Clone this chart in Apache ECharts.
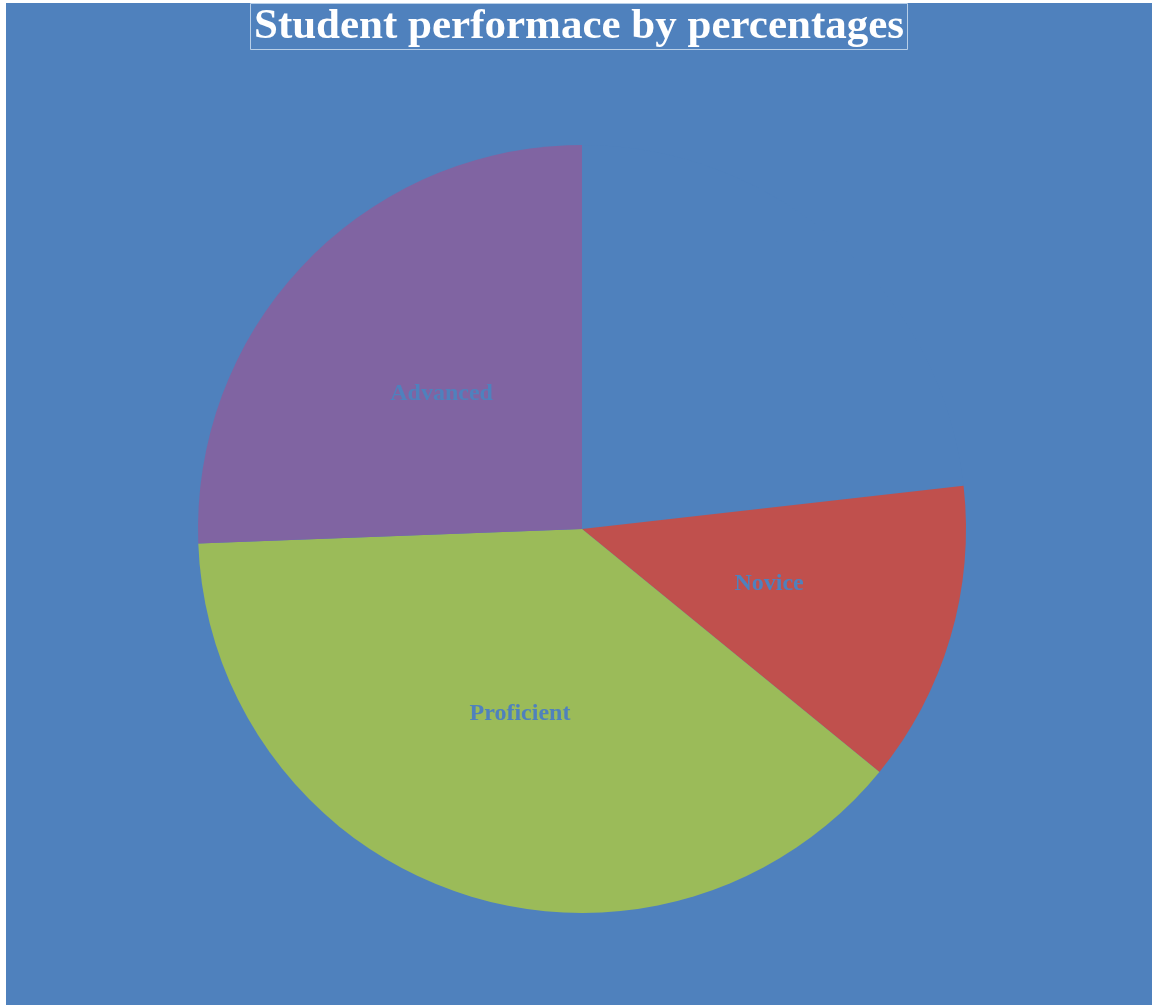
<!DOCTYPE html>
<html>
<head>
<meta charset="utf-8">
<script src="https://cdn.jsdelivr.net/npm/echarts@6/dist/echarts.min.js"></script>
<style>
  html, body { margin: 0; padding: 0; background: #ffffff; }
  #chart { position: absolute; left: 6px; top: 3px; width: 1146px; height: 1002px; }
</style>
</head>
<body>
<div id="chart"></div>
<script>
const categories = ["Basic", "Novice", "Proficient", "Advanced"];
const percentages = [23.2, 12.7, 38.5, 25.6];
const sliceColors = ["#4F81BD", "#C0504D", "#9BBB59", "#8064A2"];
const showLabel = [false, true, true, true];
const titleText = "Student performace by percentages";

const chart = echarts.init(document.getElementById('chart'));
chart.setOption({
  backgroundColor: '#4F81BD',
  animation: false,
  title: {
    text: titleText,
    left: 'center',
    top: 0,
    padding: [2, 4, 2, 4],
    borderColor: '#b8cfe8',
    borderWidth: 1,
    textStyle: {
      color: '#ffffff',
      fontFamily: 'Liberation Serif',
      fontWeight: 'bold',
      fontSize: 43,
      lineHeight: 43
    }
  },
  series: [{
    type: 'pie',
    center: [576, 526],
    radius: [0, 384],
    startAngle: 90,
    clockwise: true,
    avoidLabelOverlap: false,
    label: {
      position: 'inner',
      formatter: '{b}',
      color: '#4F81BD',
      fontFamily: 'Liberation Serif',
      fontWeight: 'bold',
      fontSize: 24
    },
    labelLine: { show: false },
    itemStyle: { borderWidth: 0 },
    emphasis: { disabled: true },
    data: categories.map((c, i) => ({
      name: c,
      value: percentages[i],
      itemStyle: { color: sliceColors[i] },
      label: { show: showLabel[i] }
    }))
  }]
});
</script>
</body>
</html>
